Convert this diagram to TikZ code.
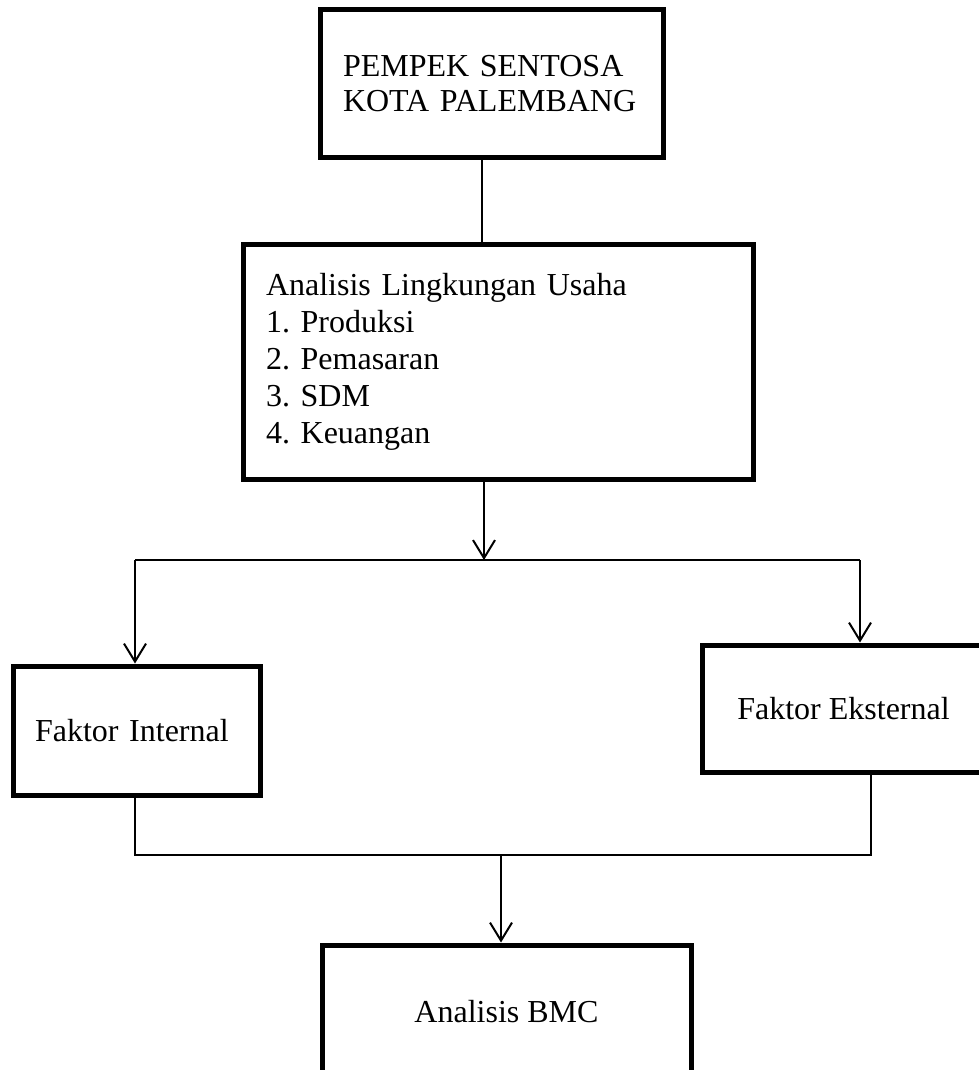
\documentclass[tikz,border=0pt]{standalone}
\usepackage{fontspec}
\setmainfont{Liberation Serif}
\frenchspacing
\usetikzlibrary{arrows.meta}
\tikzset{
  box/.style={draw, line width=5pt, rectangle, inner sep=0pt, font=\fontsize{32}{37}\selectfont},
  conn/.style={draw, line width=2pt},
  arr/.style={conn, -{Straight Barb[length=18pt,width=22pt,line width=2pt]}}
}
\begin{document}
\begin{tikzpicture}[x=1pt,y=-1pt]
\useasboundingbox (0,0) rectangle (979,1070);
\clip (0,0) rectangle (979,1070);
% boxes
\node[box, minimum width=343pt, minimum height=147pt, align=left, text width=297pt, font=\fontsize{32}{35}\selectfont\frenchspacing]
  (p1) at (491.5,83.5) {PEMPEK SENTOSA\\KOTA PALEMBANG};
\node[box, minimum width=510pt, minimum height=235pt, align=left, text width=464pt, font=\fontsize{32}{37}\selectfont\frenchspacing]
  (p2) at (498,362) {Analisis Lingkungan Usaha\\1. Produksi\\2. Pemasaran\\3. SDM\\4. Keuangan};
\node[box, minimum width=247pt, minimum height=129pt, align=left, text width=203pt]
  (fi) at (136.5,730.5) {Faktor Internal};
\node[box, minimum width=283pt, minimum height=127pt, align=center]
  (fe) at (843.5,708.5) {Faktor Eksternal};
\node[box, minimum width=369pt, minimum height=134pt, align=center]
  (bmc) at (506.5,1012) {Analisis BMC};
% junction coordinates
\coordinate (top) at (482,200);
\coordinate (split) at (484,560);
\coordinate (lsplit) at (135,560);
\coordinate (rsplit) at (860,560);
\coordinate (ljoin) at (135,855);
\coordinate (rjoin) at (871,855);
\coordinate (join) at (501,855);
% connectors
\draw[conn] (p1.south -| top) -- (p2.north -| top);
\draw[arr] (p2.south -| split) -- (split);
\draw[conn] (lsplit) -- (rsplit);
\draw[arr] (lsplit) -- (lsplit |- fi.north);
\draw[arr] (rsplit) -- (rsplit |- fe.north);
\draw[conn] (fi.south -| ljoin) -- (ljoin) -- (rjoin) -- (fe.south -| rjoin);
\draw[arr] (join) -- (join |- bmc.north);
\end{tikzpicture}
\end{document}
